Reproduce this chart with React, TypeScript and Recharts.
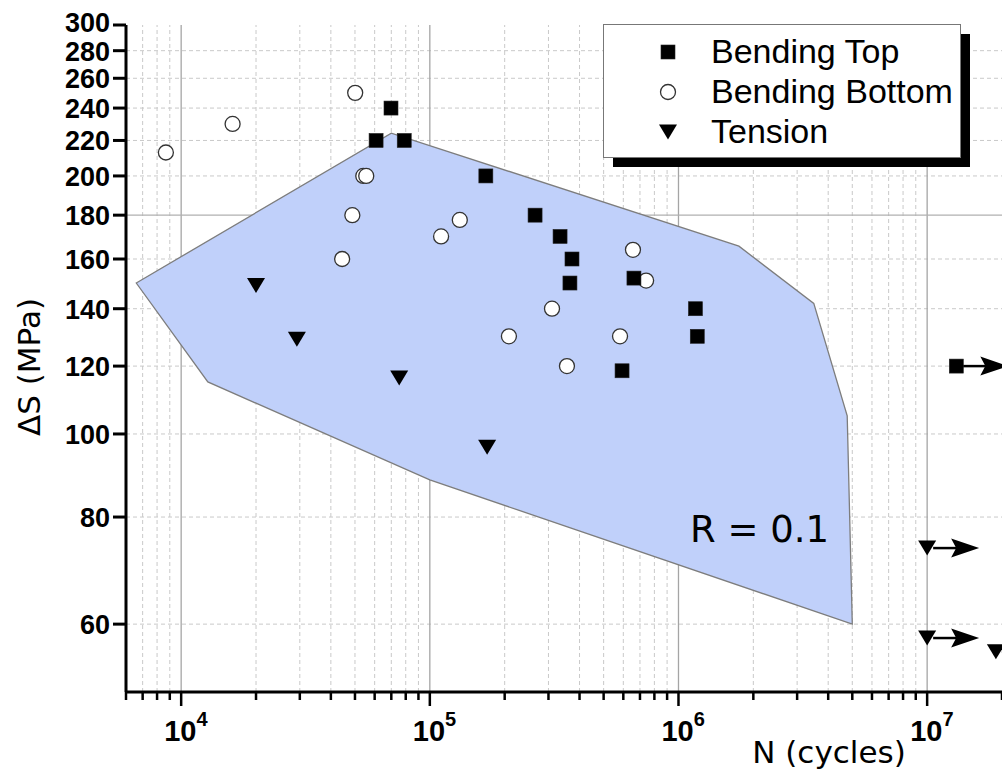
import React from 'react';
import { ScatterChart, Scatter, XAxis, YAxis, ReferenceLine, Legend } from 'recharts';

// series names (legend order)
const seriesNames = ['Bending Top', 'Bending Bottom', 'Tension'];

// N (cycles) vs stress range (MPa)
const bendingTop = [
  { n: 69800, s: 240 },
  { n: 60800, s: 220 },
  { n: 78900, s: 220 },
  { n: 168000, s: 200 },
  { n: 265000, s: 180 },
  { n: 334000, s: 170 },
  { n: 373000, s: 160 },
  { n: 366000, s: 150 },
  { n: 662000, s: 152 },
  { n: 593000, s: 118.5 },
  { n: 1170000, s: 140 },
  { n: 1190000, s: 130 },
];

const bendingBottom = [
  { n: 8680, s: 213 },
  { n: 16100, s: 230 },
  { n: 50100, s: 250 },
  { n: 54000, s: 200 },
  { n: 55500, s: 200 },
  { n: 48800, s: 180 },
  { n: 44400, s: 160 },
  { n: 132000, s: 177.7 },
  { n: 111000, s: 170 },
  { n: 208000, s: 130 },
  { n: 310000, s: 140 },
  { n: 356000, s: 120 },
  { n: 582000, s: 130 },
  { n: 656000, s: 164 },
  { n: 741000, s: 151 },
];

const tension = [
  { n: 20000, s: 149 },
  { n: 29200, s: 129 },
  { n: 75300, s: 116.2 },
  { n: 170000, s: 96.5 },
];

// run-outs (no failure), drawn with an arrow
const bendingTopRunout = [{ n: 13100000, s: 120 }];
const tensionRunout = [
  { n: 10000000, s: 73.6 },
  { n: 10000000, s: 57.8 },
  { n: 18900000, s: 55.7 },
];

// scatter band outline for R = 0.1
const scatterBand = [
  { n: 6600, s: 150 },
  { n: 70000, s: 224.4 },
  { n: 1750000, s: 165.6 },
  { n: 3500000, s: 142 },
  { n: 4770000, s: 105 },
  { n: 5000000, s: 60 },
  { n: 100000, s: 88.4 },
  { n: 12800, s: 115 },
];

const xTicks = [
  6000, 7000, 8000, 9000,
  10000, 20000, 30000, 40000, 50000, 60000, 70000, 80000, 90000,
  100000, 200000, 300000, 400000, 500000, 600000, 700000, 800000, 900000,
  1000000, 2000000, 3000000, 4000000, 5000000, 6000000, 7000000, 8000000, 9000000,
  10000000, 20000000,
];
const xDecades = [10000, 100000, 1000000, 10000000];
const xMinorGrid = xTicks.filter((v) => !xDecades.includes(v) && v !== 6000 && v !== 20000000);
const yTicks = [60, 80, 100, 120, 140, 160, 180, 200, 220, 240, 260, 280, 300];
const ySolidGrid = [180];
const yDashedGrid = yTicks.filter((v) => !ySolidGrid.includes(v) && v !== 300);

const SANS = '"Liberation Sans", Arial, sans-serif';
const DEJAVU = '"DejaVu Sans", sans-serif';

const XTick = (props: any) => {
  const { x, y, payload } = props;
  const v = payload.value;
  const exp = Math.round(Math.log10(v));
  const major = xDecades.includes(v);
  return (
    <g>
      <line x1={x} y1={y} x2={x} y2={y + (major ? 14 : 8)} stroke="#000" strokeWidth={2.5} />
      {major && (
        <text fontFamily={SANS} fontWeight="bold" fill="#000">
          <tspan x={x - 17} y={y + 49} fontSize={29}>10</tspan>
          <tspan dy={-15} fontSize={20}>{exp}</tspan>
        </text>
      )}
    </g>
  );
};

const YTick = (props: any) => {
  const { x, y, payload, index } = props;
  // top label sits a little higher, as in the original
  const dy = index === yTicks.length - 1 ? 7 : 10;
  return (
    <g>
      <line x1={x - 13} y1={y} x2={x} y2={y} stroke="#000" strokeWidth={3} />
      <text x={x - 16} y={y + dy} textAnchor="end" fontFamily={SANS} fontWeight="bold" fontSize={27} fill="#000">
        {payload.value}
      </text>
    </g>
  );
};

const Square = ({ cx, cy }: any) => <rect x={cx - 7} y={cy - 7} width={14} height={14} fill="#000" stroke="#222" strokeWidth={0.6} />;
const Circle = ({ cx, cy }: any) => <circle cx={cx} cy={cy} r={7.5} fill="#fff" stroke="#333" strokeWidth={1.3} />;
const TriDown = ({ cx, cy }: any) => (
  <polygon points={`${cx - 9},${cy - 7.5} ${cx + 9},${cy - 7.5} ${cx},${cy + 7.5}`} fill="#000" />
);

const Arrow = ({ cx, cy }: any) => (
  <g>
    <line x1={cx + 6} y1={cy} x2={cx + 32} y2={cy} stroke="#000" strokeWidth={2.5} />
    <polygon points={`${cx + 52},${cy} ${cx + 24},${cy - 9.5} ${cx + 29},${cy} ${cx + 24},${cy + 9.5}`} fill="#000" />
  </g>
);

const SquareRunout = (p: any) => (
  <g>
    <Arrow {...p} />
    <Square {...p} />
  </g>
);
const TriRunout = (p: any) => (
  <g>
    <Arrow {...p} />
    <TriDown {...p} />
  </g>
);

const BandOutline = (p: any) => {
  const pts = p.points || [];
  const d = pts.map((pt: any, i: number) => `${i === 0 ? 'M' : 'L'}${pt.x},${pt.y}`).join(' ') + ' Z';
  return <path d={d} fill="#c0d0fa" stroke="#7d7d7d" strokeWidth={1.3} />;
};

const legendMarkers = [Square, Circle, TriDown];

const LegendBox = () => (
  <svg width={372} height={146} style={{ display: 'block' }}>
    <rect x={10} y={10} width={357} height={133} fill="#000" />
    <rect x={0.5} y={0.5} width={357} height={133} fill="#fff" stroke="#777" strokeWidth={1} />
    {seriesNames.map((name, i) => {
      const M = legendMarkers[i];
      const cy = 28 + i * 40;
      return (
        <g key={name}>
          <M cx={65} cy={cy} />
          <text x={108} y={cy + 11} fontFamily={SANS} fontSize={34} fill="#000">
            {name}
          </text>
        </g>
      );
    })}
  </svg>
);

export default function App() {
  return (
    <div style={{ position: 'absolute', left: 0, top: 0, width: 1002, height: 772, background: '#fff' }}>
      <ScatterChart width={1002} height={772} margin={{ top: 25, right: 0, bottom: 0, left: 0 }}>
        <XAxis
          type="number"
          dataKey="n"
          scale="log"
          domain={[6000, 20000000]}
          allowDataOverflow
          ticks={xTicks}
          interval={0}
          height={80}
          tickSize={0}
          tickMargin={0}
          tickLine={false}
          tick={<XTick />}
          axisLine={{ stroke: '#000', strokeWidth: 3 }}
        />
        <YAxis
          type="number"
          dataKey="s"
          scale="log"
          domain={[50, 300]}
          allowDataOverflow
          ticks={yTicks}
          interval={0}
          width={126}
          tickSize={0}
          tickMargin={0}
          tickLine={false}
          tick={<YTick />}
          axisLine={{ stroke: '#000', strokeWidth: 3 }}
        />
        <Scatter
          data={scatterBand}
          isAnimationActive={false}
          shape={() => <g />}
          line={BandOutline}
          lineType="joint"
          legendType="none"
        />
        {xMinorGrid.map((v) => (
          <ReferenceLine key={`xg${v}`} x={v} stroke="#c9c9c9" strokeDasharray="4 3" strokeWidth={1} />
        ))}
        {yDashedGrid.map((v) => (
          <ReferenceLine key={`yg${v}`} y={v} stroke="#c9c9c9" strokeDasharray="4 3" strokeWidth={1} />
        ))}
        {xDecades.map((v) => (
          <ReferenceLine key={`xd${v}`} x={v} stroke="#a5a5a5" strokeWidth={1.3} />
        ))}
        {ySolidGrid.map((v) => (
          <ReferenceLine key={`ys${v}`} y={v} stroke="#b0b0b0" strokeWidth={1.3} />
        ))}
        <Scatter name={seriesNames[1]} data={bendingBottom} isAnimationActive={false} shape={Circle} />
        <Scatter name={seriesNames[0]} data={bendingTop} isAnimationActive={false} shape={Square} />
        <Scatter name={seriesNames[2]} data={tension} isAnimationActive={false} shape={TriDown} />
        <Scatter data={bendingTopRunout} isAnimationActive={false} shape={SquareRunout} legendType="none" />
        <Scatter data={tensionRunout} isAnimationActive={false} shape={TriRunout} legendType="none" />
        <Legend
          layout="horizontal"
          verticalAlign="middle"
          align="center"
          content={() => <LegendBox />}
          wrapperStyle={{ left: 603, top: 24, width: 372, height: 146 }}
        />
      </ScatterChart>
      <svg width={1002} height={772} style={{ position: 'absolute', left: 0, top: 0, pointerEvents: 'none' }}>
        <text x={690} y={542} fontFamily={DEJAVU} fontSize={37} fill="#000">
          R = 0.1
        </text>
        <text x={829} y={763} textAnchor="middle" fontFamily={DEJAVU} fontSize={31} fill="#000">
          N (cycles)
        </text>
        <text
          transform="translate(40,367) rotate(-90)"
          textAnchor="middle"
          fontFamily={DEJAVU}
          fontSize={31}
          fill="#000"
        >
          ΔS (MPa)
        </text>
      </svg>
    </div>
  );
}
